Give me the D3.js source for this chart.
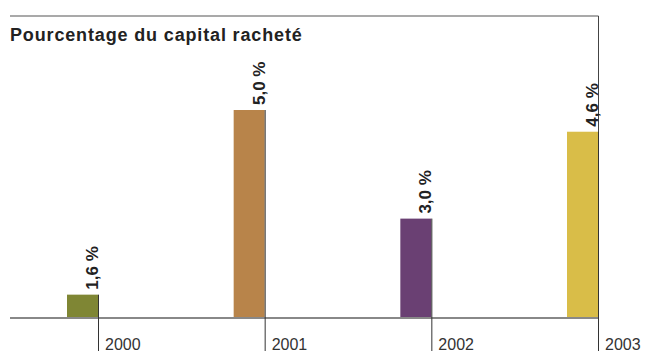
<!DOCTYPE html>
<html>
<head>
<meta charset="utf-8">
<script src="https://cdn.jsdelivr.net/npm/d3@7/dist/d3.min.js"></script>
<style>
  html, body { margin: 0; padding: 0; background: #fff; }
  svg { display: block; font-family: "Liberation Sans", Arial, Helvetica, sans-serif; }
</style>
</head>
<body>
<svg id="chart" width="645" height="352"></svg>
<script>
const title = "Pourcentage du capital racheté";
const years = ["2000", "2001", "2002", "2003"];
const values = [1.6, 5.0, 3.0, 4.6];
const valueLabels = ["1,6 %", "5,0 %", "3,0 %", "4,6 %"];
const colors = ["#7f8634", "#b8844a", "#6a4073", "#d9bd48"];

const svg = d3.select("#chart");
const baseY = 318;
const x = d3.scalePoint().domain(years).range([98, 598]);
const y = d3.scaleLinear().domain([1.17, 5.0]).range([baseY, 110]);
const barW = 31;

// frame: top and right
svg.append("line").attr("x1", 10).attr("x2", 598.5).attr("y1", 16).attr("y2", 16)
  .attr("stroke", "#555").attr("stroke-width", 1.2);
svg.append("line").attr("x1", 598.5).attr("x2", 598.5).attr("y1", 16).attr("y2", 351)
  .attr("stroke", "#444").attr("stroke-width", 1);

// title
svg.append("text").attr("x", 10).attr("y", 41).text(title)
  .attr("font-size", 18).attr("font-weight", "bold").attr("fill", "#222")
  .attr("letter-spacing", 0.85);

const data = years.map((yr, i) => ({ yr, v: values[i], lab: valueLabels[i], c: colors[i] }));

// bars
svg.selectAll("rect.bar").data(data).join("rect").attr("class", "bar")
  .attr("x", d => x(d.yr) - barW)
  .attr("width", barW)
  .attr("y", d => y(d.v))
  .attr("height", d => baseY - y(d.v))
  .attr("fill", d => d.c);

// baseline
svg.append("line").attr("x1", 10).attr("x2", 598).attr("y1", baseY).attr("y2", baseY)
  .attr("stroke", "#888").attr("stroke-width", 2);

// tick lines (right edge of bars, extending down)
svg.selectAll("line.tick").data(data).join("line").attr("class", "tick")
  .attr("x1", d => x(d.yr) + 0.5).attr("x2", d => x(d.yr) + 0.5)
  .attr("y1", d => y(d.v)).attr("y2", 351)
  .attr("stroke", "#333").attr("stroke-width", 1);

// year labels
svg.selectAll("text.year").data(data).join("text").attr("class", "year")
  .attr("x", d => x(d.yr) + 7).attr("y", 350)
  .attr("font-size", 16).attr("fill", "#333")
  .text(d => d.yr);

// value labels (rotated)
svg.selectAll("text.val").data(data).join("text").attr("class", "val")
  .attr("transform", d => `translate(${x(d.yr)},${y(d.v) - 5}) rotate(-90)`)
  .attr("font-size", 17).attr("font-weight", "bold").attr("fill", "#222")
  .text(d => d.lab);
</script>
</body>
</html>
